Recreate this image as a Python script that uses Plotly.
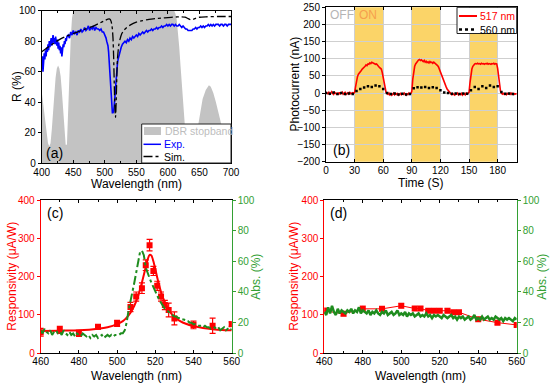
import plotly.graph_objects as go

W, H = 550, 383
def px(x): return x / W
def py(y): return 1 - y / H

# ---------------- (a) reflectance ----------------
dbr_wl = [400,402,404,406,408,410,412,414,416,418,420,422,424,426,428,430,432,434,436,438,440,442,444,446,448,450,
          460,480,500,520,540,560,580,600,610,612,614,616,618,620,622,624,626,628,630,632,634,636,638,640,643,646,
          650,655,660,665,668,672,676,680,684,688,692,696,700]
dbr_r = [47,40,32,24,17,13,11,13,22,35,47,56,62,64,62,57,47,35,22,12,12,30,58,82,95,100,
         101,101,101,101,101,101,101,101,100,98,94,86,76,64,51,39,28,18,10,5,2,1,2,5,11,20,
         31,42,48,51,50,46,40,33,26,19,12,6,2]

exp_wl = (list(range(400, 441)) + list(range(442, 499, 2)) + list(range(500, 523)) + list(range(524, 701, 2)))
exp_r = [62,70,60,66,72,68,74,70,76,73,78,74,80,76,79,82,77,81,84,79,82,78,83,80,77,81,75,79,74,77,72,76,70,74,78,76,80,78,82,80,83,
         84,82,86,84,87,85,86,84,87,86,88,86,87,89,87,88,90,87,89,88,90,87,89,88,88,87,88,86,86,
         84,84,82,80,79,77,73,66,56,46,39,35,33,33,34,38,45,52,58,62,65,68,70,
         73,76,78,79,80,79,81,80,82,81,83,82,83,84,83,85,84,85,86,85,86,87,86,87,87,88,87,88,88,89,
         88,89,89,90,89,90,90,91,90,91,90,91,91,90,91,90,90,91,90,89,90,89,88,88,87,87,87,87,88,88,
         89,88,89,89,90,89,90,89,90,90,91,90,91,90,91,90,91,91,91,90,91,91,90,91,91,90,91,91,91]

sim_wl = [400,410,420,430,440,450,460,470,480,490,500,505,508,510,511,512,513,514,515,516,517,518,519,520,522,
          524,527,530,535,540,550,560,570,580,590,600,610,620,627,632,636,640,645,650,660,680,700]
sim_r = [73,76,79,81.5,83.5,85,86.5,88,89.5,91.5,93.5,94.5,94.5,93,91,88,82,70,52,36,30,40,56,68,77,
         81,85,87,89,90.5,92.5,93.5,94.3,94.8,95.2,95.5,95.8,96,95.8,94.8,94,94.3,95.2,95.7,96,96.2,96.2]

# ---------------- (b) photocurrent ----------------
t_517 = list(range(0, 201))
i_517 = ([3,1,-2,2,-3,0,4,-1,-4,2,0,-3,1,-5,2,-2,0,3,-3,-1,2,-4,0,1,-3,2,-2,0,1,-1] +
         [2,18,35,48,55,60,64,66,70,72,74,78,82,80,85,84,88,86,90,88,87,86,84,85,80,78,75,73,70,60,45] +
         [25,10,2,-2,-4,0,-5,-2,-6,-3,0,-5,-2,-4,0,-6,-3,-1,-5,-2,-4,0,-3,-6,-2,-4,0,-3,-1] +
         [5,40,62,78,85,90,94,96,98,95,97,94,92,95,90,93,89,91,88,92,89,90,87,90,88,86,82,80,76,68,60,52,45,38,30,24,18,12,8,3,0] +
         [-2,-5,-1,-4,-6,-2,-3,0,-5,-2,-4,-1,-6,-3,-2,-5,0,-3,-1] +
         [2,30,55,70,78,82,85,86,85,87,85,86,84,87,85,86,84,86,85,87,84,86,85,84,86,85,87,84,86,85,72,48,22,6,0] +
         [-3,-1,-4,-2,-5,-1,-3,-2,-4,0,-3,-1,-4,-2,-3,-1])
t_560 = list(range(0, 197, 4))
i_560 = [0,-2,2,-3,0,-3,-1,-3,
         6,12,16,20,18,22,20,
         12,0,-3,-1,-4,-2,-4,-3,
         14,17,16,18,15,17,15,
         8,2,0,-2,-1,-3,-1,-2,
         8,18,12,20,15,22,18,20,
         3,-2,-1,-3]
on_start = [30, 90, 150]
on_end = [60, 120, 180]
b_xticks = [0, 30, 60, 90, 120, 150, 180]

# ---------------- (c) resonant responsivity ----------------
c_wl = [460,470,480,490,500,507,510,513,515,517,519,521,523,525,527,530,540,550,560]
c_resp = [55,61,52,69,78,121,148,170,230,282,215,176,148,126,113,91,74,72,76]
c_err = [10,9,8,6,8,12,12,14,14,15,12,12,12,12,18,17,10,20,6]
c_fit_wl = [460,470,480,490,495,500,503,505,507,509,511,513,515,516,517,518,519,520,521,522,523,524,526,528,530,533,536,540,545,550,555,560]
c_fit = [58,59,60,64,68,76,84,93,106,124,150,185,225,245,257,255,240,220,198,178,160,145,122,106,95,84,77,71,66,63,61,60]
c_abs_wl = list(range(460, 561))
c_abs = [15,13,16,14,13,15,12,14,15,13,
         14,12,15,13,12,14,12,13,11,13,
         12,11,13,12,11,12,10,12,11,12,
         10,11,12,10,11,12,11,12,11,12,
         12,12,13,13,15,20,28,35,40,46,
         53,60,66,67,64,56,52,49,46,43,
         41,38,35,33,31,29,28,27,26,25,
         24,24,23,23,22,22,21,21,20,20,
         19,19,18,18,18,17,18,17,17,16,
         16,17,16,17,15,16,17,15,16,15,
         16]

# ---------------- (d) non-resonant responsivity ----------------
d_wl = [460,470,480,490,500,507,510,514,517,520,524,527,530,540,550,560]
d_resp = [111,103,116,116,124,117,117,111,111,111,111,107,107,89,80,74]
d_err = [8,6,8,6,6,5,5,5,5,5,6,5,5,5,5,5]
d_abs_wl = list(range(460, 561))
d_abs = [27,25,30,26,31,27,25,29,26,28,
         27,26,28,27,29,26,28,27,30,26,
         28,27,26,28,25,27,26,28,26,25,
         27,26,28,25,26,27,25,26,28,25,
         26,25,27,24,26,25,26,24,25,26,
         24,25,24,26,24,25,23,25,24,25,
         24,23,25,24,23,24,25,23,24,22,
         24,23,24,22,23,24,22,23,25,22,
         23,22,24,22,23,24,22,23,22,24,
         23,22,23,21,23,22,23,22,21,23,
         22]

FONT = "Arial, Liberation Sans, sans-serif"
RED = "#FF0000"
GREEN_L = "#1E8C1E"
GREEN_A = "#33A033"
BLUE = "#0000FF"
GRAY = "#C3C3C3"
GOLD = "#FBD468"
TICKF = 10
TITLEF = 12

fig = go.Figure()

# (a)
fig.add_trace(go.Scatter(x=dbr_wl, y=dbr_r, mode="lines", fill="tozeroy", fillcolor=GRAY,
                         line=dict(width=0, color=GRAY), xaxis="x", yaxis="y", showlegend=False))
fig.add_trace(go.Scatter(x=exp_wl, y=exp_r, mode="lines", line=dict(color=BLUE, width=1.6),
                         xaxis="x", yaxis="y", showlegend=False))
fig.add_trace(go.Scatter(x=sim_wl, y=sim_r, mode="lines", line=dict(color="black", width=1.3, dash="dashdot", shape="spline", smoothing=0.5),
                         xaxis="x", yaxis="y", showlegend=False))

# (b)
fig.add_trace(go.Scatter(x=t_517, y=i_517, mode="lines", line=dict(color=RED, width=1.6),
                         xaxis="x2", yaxis="y2", showlegend=False))
fig.add_trace(go.Scatter(x=t_560, y=i_560, mode="markers", marker=dict(color="black", size=2.5, symbol="square"),
                         xaxis="x2", yaxis="y2", showlegend=False))

# (c)
fig.add_trace(go.Scatter(x=c_abs_wl, y=c_abs, mode="lines", line=dict(color=GREEN_L, width=2, dash="dashdot"),
                         xaxis="x3", yaxis="y4", showlegend=False))
fig.add_trace(go.Scatter(x=c_fit_wl, y=c_fit, mode="lines", line=dict(color=RED, width=2, shape="spline", smoothing=0.6),
                         xaxis="x3", yaxis="y3", showlegend=False))
fig.add_trace(go.Scatter(x=c_wl, y=c_resp, mode="markers", marker=dict(color=RED, size=6, symbol="square"),
                         error_y=dict(type="data", array=c_err, color=RED, thickness=1.2, width=3),
                         xaxis="x3", yaxis="y3", showlegend=False))

# (d)
fig.add_trace(go.Scatter(x=d_wl, y=d_resp, mode="lines+markers", line=dict(color=RED, width=1),
                         marker=dict(color=RED, size=6, symbol="square"),
                         error_y=dict(type="data", array=d_err, color="rgba(255,0,0,0.35)", thickness=1, width=3),
                         xaxis="x4", yaxis="y5", showlegend=False))
fig.add_trace(go.Scatter(x=d_abs_wl, y=d_abs, mode="lines", line=dict(color=GREEN_L, width=2.5),
                         xaxis="x4", yaxis="y6", showlegend=False))


def xax(domain, rng, anchor, **kw):
    d = dict(domain=domain, range=rng, anchor=anchor, showline=True, linecolor="black", linewidth=1,
             mirror="ticks", ticks="inside", ticklen=3, tickcolor="black", showgrid=False, zeroline=False,
             automargin=False, tickfont=dict(size=TICKF, color="black"))
    d.update(kw)
    return d


def yax(domain, rng, anchor, color="black", **kw):
    d = dict(domain=domain, range=rng, anchor=anchor, showline=True, linecolor=color, linewidth=1,
             ticks="outside", ticklen=3, tickcolor=color, showgrid=False, zeroline=False,
             automargin=False, tickfont=dict(size=TICKF, color=color))
    d.update(kw)
    return d


layout = dict(
    width=W, height=H, autosize=False,
    margin=dict(l=0, r=0, t=0, b=0),
    paper_bgcolor="white", plot_bgcolor="white",
    font=dict(family=FONT, color="black"),
    showlegend=False,
    xaxis=xax([px(41.7), px(231)], [400, 700], "y", dtick=50,
              minor=dict(ticks="inside", ticklen=2, dtick=25, tickcolor="black")),
    yaxis=yax([py(163), py(10.7)], [0, 100], "x", dtick=20, mirror=True),
    xaxis2=xax([px(326), px(516.7)], [0, 200], "y2", tickvals=b_xticks, ticklabelstandoff=-1,
               showgrid=True, gridcolor="#CFCFCF", gridwidth=1),
    yaxis2=yax([py(161.7), py(7.3)], [-200, 250], "x2", dtick=50, mirror=True,
               showgrid=True, gridcolor="#CFCFCF", gridwidth=1),
    xaxis3=xax([px(40.7), px(231.7)], [460, 560], "y3", dtick=20, ticklabelstandoff=-1,
               minor=dict(ticks="inside", ticklen=2, dtick=10, tickcolor="black")),
    yaxis3=yax([py(353.3), py(200)], [0, 400], "x3", color=RED, dtick=100),
    yaxis4=yax([py(353.3), py(200)], [0, 100], "x3", color=GREEN_A, dtick=20,
               overlaying="y3", side="right"),
    xaxis4=xax([px(324.3), px(516.7)], [460, 560], "y5", dtick=20, ticklabelstandoff=-1,
               minor=dict(ticks="inside", ticklen=2, dtick=10, tickcolor="black")),
    yaxis5=yax([py(353.3), py(200)], [0, 400], "x4", color=RED, dtick=100),
    yaxis6=yax([py(353.3), py(200)], [0, 100], "x4", color=GREEN_A, dtick=20,
               overlaying="y5", side="right"),
)
fig.update_layout(**layout)

# ON illumination bands in (b)
for s, e in zip(on_start, on_end):
    fig.add_shape(type="rect", xref="x2", yref="y2 domain", x0=s, x1=e, y0=0, y1=1,
                  fillcolor=GOLD, line=dict(width=0), layer="below")

# legend (a)
fig.add_shape(type="rect", xref="paper", yref="paper", x0=px(141.7), x1=px(231), y0=py(163), y1=py(124),
              fillcolor="white", line=dict(color="#222", width=1), layer="above")
fig.add_shape(type="rect", xref="paper", yref="paper", x0=px(144), x1=px(161), y0=py(135), y1=py(127),
              fillcolor=GRAY, line=dict(width=0), layer="above")
fig.add_shape(type="line", xref="paper", yref="paper", x0=px(143.5), x1=px(161), y0=py(144.3), y1=py(144.3),
              line=dict(color=BLUE, width=1.5), layer="above")
fig.add_shape(type="line", xref="paper", yref="paper", x0=px(143.5), x1=px(161), y0=py(156.5), y1=py(156.5),
              line=dict(color="black", width=1.3, dash="dashdot"), layer="above")

# legend (b)
fig.add_shape(type="rect", xref="paper", yref="paper", x0=px(457), x1=px(516.7), y0=py(33.5), y1=py(7.3),
              fillcolor="white", line=dict(color="#222", width=1), layer="above")
fig.add_shape(type="line", xref="paper", yref="paper", x0=px(459), x1=px(477), y0=py(16), y1=py(16),
              line=dict(color=RED, width=2), layer="above")
fig.add_shape(type="line", xref="paper", yref="paper", x0=px(459), x1=px(477), y0=py(29.5), y1=py(29.5),
              line=dict(color="black", width=2.5, dash="dot"), layer="above")

def ann(text, x, y, size, color, xanchor="left", angle=0):
    fig.add_annotation(text=text, xref="paper", yref="paper", x=px(x), y=py(y), xanchor=xanchor,
                       yanchor="middle", showarrow=False, textangle=angle,
                       font=dict(size=size, color=color, family=FONT))

# axis titles
ann("R (%)", 17, 87, TITLEF, "black", "center", -90)
ann("Wavelength (nm)", 136, 183.5, TITLEF, "black", "center")
ann("Photocurrent (nA)", 294, 84.5, TITLEF, "black", "center", -90)
ann("Time (S)", 421, 183, TITLEF, "black", "center")
ann("Responsivity (\u03bcA/W)", 12, 276.7, TITLEF, RED, "center", -90)
ann("Abs. (%)", 256, 276.7, TITLEF, GREEN_A, "center", -90)
ann("Wavelength (nm)", 136, 375.5, TITLEF, "black", "center")
ann("Responsivity (\u03bcA/W)", 294, 276.7, TITLEF, RED, "center", -90)
ann("Abs. (%)", 542, 276.7, TITLEF, GREEN_A, "center", -90)
ann("Wavelength (nm)", 420, 375.5, TITLEF, "black", "center")

# legend texts and labels
ann("DBR stopband", 163, 131, 10.5, "#BDBDBD")
ann("Exp.", 162, 144.3, 10.5, BLUE)
ann("Sim.", 162, 156.5, 10.5, "black")
ann("517 nm", 478, 16, 10.5, RED)
ann("560 nm", 478, 29.5, 10.5, "black")
ann("OFF", 328, 14.5, 12, "#B5B5B5")
ann("ON", 357, 14.5, 12, "#F6A04D")
ann("(a)", 44, 153, 14, "black")
ann("(b)", 331, 150, 14, "black")
ann("(c)", 45, 213, 14, "black")
ann("(d)", 328, 213, 14, "black")

fig.write_html("out.html", config={"displayModeBar": False},
               post_script="document.body.style.margin='0';document.body.style.padding='0';")
